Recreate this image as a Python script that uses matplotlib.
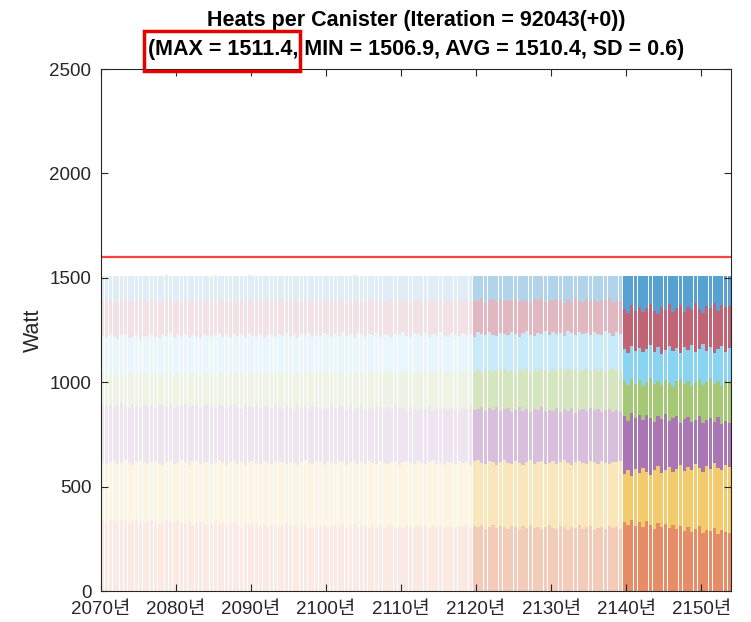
import numpy as np
from matplotlib import pyplot as plt
from matplotlib.patches import Rectangle

plt.rcParams['font.family'] = ['Liberation Sans', 'Noto Sans CJK KR']

# Upper edge of each heat layer per half-year bar (Watt), bottom layer first.
orange_top = [
    338, 331, 342, 335, 328, 340, 333, 326, 337, 344, 332, 327,
    336, 341, 329, 322, 334, 339, 330, 325, 333, 320, 328, 335,
    318, 326, 331, 322, 315, 327, 333, 319, 324, 312, 321, 329,
    316, 308, 322, 314, 319, 326, 311, 317, 309, 320, 313, 305,
    318, 324, 310, 316, 307, 314, 321, 309, 302, 315, 311, 318,
    306, 313, 320, 308, 316, 303, 311, 319, 305, 314, 310, 302,
    317, 309, 315, 304, 312, 320, 307, 313, 301, 316, 310, 305,
    314, 308, 318, 303, 311, 306, 315, 300, 309, 313, 304, 312,
    307, 316, 302, 311, 305, 318, 298, 309, 314, 301, 312, 306,
    299, 313, 308, 296, 311, 304, 317, 300, 309, 295, 306, 314,
    302, 297, 310, 305, 293, 308, 301, 315, 298, 306, 311, 294,
    304, 309, 296, 312, 300, 307, 298, 332, 318, 341, 312, 329,
    305, 334, 316, 298, 327, 309, 322, 301, 318, 295, 312, 289,
    306, 284, 297, 312, 278, 293, 286, 301, 274, 290, 281, 277,
]
yellow_top = [
    612, 606, 618, 622, 609, 615, 627, 611, 604, 619, 625, 613,
    608, 617, 623, 610, 602, 616, 621, 607, 614, 626, 612, 605,
    618, 624, 609, 613, 620, 606, 615, 628, 611, 603, 617, 622,
    610, 616, 605, 619, 624, 612, 608, 621, 614, 606, 618, 625,
    613, 607, 620, 615, 603, 618, 626, 611, 609, 622, 616, 605,
    619, 612, 608, 623, 617, 604, 614, 627, 610, 618, 606, 621,
    615, 609, 624, 612, 607, 620, 616, 603, 619, 625, 611, 608,
    622, 614, 606, 618, 627, 610, 615, 604, 620, 613, 609, 624,
    611, 617, 605, 621, 628, 614, 608, 623, 616, 604, 619, 626,
    612, 607, 622, 615, 603, 620, 627, 610, 617, 624, 606, 613,
    621, 609, 616, 628, 611, 605, 619, 624, 613, 608, 622, 617,
    610, 625, 614, 606, 620, 616, 623, 561, 578, 552, 583, 567,
    589, 571, 556, 582, 598, 564, 579, 592, 570, 586, 603, 575,
    594, 581, 607, 588, 572, 599, 585, 611, 590, 578, 602, 596,
]
purple_top = [
    892, 885, 898, 879, 890, 903, 884, 877, 895, 888, 881, 899,
    886, 893, 878, 897, 889, 882, 901, 876, 891, 884, 896, 880,
    887, 894, 875, 889, 898, 883, 878, 892, 885, 871, 890, 896,
    880, 874, 893, 886, 879, 895, 870, 884, 889, 876, 892, 881,
    873, 887, 882, 869, 891, 878, 885, 872, 888, 880, 866, 883,
    877, 890, 871, 884, 879, 868, 886, 874, 881, 889, 865, 878,
    872, 885, 879, 866, 883, 875, 888, 870, 877, 863, 882, 874,
    869, 880, 873, 886, 862, 876, 871, 883, 867, 879, 874, 861,
    877, 870, 884, 866, 872, 879, 861, 875, 868, 882, 864, 871,
    876, 859, 868, 881, 863, 872, 857, 874, 866, 879, 860, 869,
    864, 877, 858, 870, 862, 875, 855, 867, 873, 860, 878, 865,
    871, 856, 868, 874, 859, 866, 862, 838, 816, 851, 827, 845,
    819, 842, 831, 808, 836, 822, 847, 813, 829, 840, 806, 825,
    834, 811, 820, 839, 803, 817, 828, 809, 832, 798, 815, 807,
]
green_top = [
    1042, 1035, 1048, 1039, 1031, 1046, 1037, 1052, 1041, 1034, 1049, 1038,
    1045, 1036, 1051, 1040, 1033, 1047, 1043, 1030, 1050, 1039, 1044, 1035,
    1048, 1041, 1034, 1053, 1038, 1046, 1032, 1049, 1042, 1037, 1055, 1040,
    1044, 1051, 1036, 1047, 1039, 1054, 1043, 1035, 1050, 1045, 1038, 1052,
    1041, 1048, 1056, 1037, 1046, 1040, 1053, 1044, 1039, 1057, 1042, 1049,
    1047, 1038, 1054, 1045, 1051, 1036, 1048, 1055, 1043, 1050, 1041, 1058,
    1046, 1053, 1040, 1049, 1057, 1044, 1051, 1039, 1055, 1047, 1060, 1043,
    1052, 1045, 1058, 1041, 1054, 1049, 1062, 1046, 1051, 1056, 1043, 1059,
    1048, 1055, 1061, 1050, 1057, 1044, 1063, 1052, 1047, 1059, 1054, 1066,
    1051, 1058, 1045, 1062, 1056, 1067, 1049, 1060, 1053, 1064, 1057, 1050,
    1063, 1055, 1068, 1052, 1061, 1057, 1065, 1050, 1059, 1066, 1054, 1062,
    1056, 1064, 1051, 1060, 1067, 1053, 1058, 1004, 987, 1015, 993, 1009,
    981, 1002, 1018, 990, 1007, 985, 1012, 996, 979, 1005, 1016, 991,
    1008, 984, 999, 1014, 989, 1003, 1019, 993, 1006, 982, 1011, 1000,
]
lightblue_top = [
    1221, 1214, 1228, 1217, 1209, 1225, 1232, 1212, 1219, 1226, 1208, 1223,
    1215, 1230, 1218, 1211, 1227, 1220, 1234, 1213, 1224, 1216, 1229, 1210,
    1226, 1219, 1212, 1231, 1222, 1215, 1228, 1236, 1217, 1224, 1211, 1233,
    1220, 1227, 1214, 1235, 1223, 1218, 1230, 1212, 1225, 1232, 1216, 1229,
    1222, 1236, 1219, 1226, 1213, 1231, 1224, 1238, 1217, 1228, 1221, 1234,
    1227, 1215, 1232, 1223, 1239, 1220, 1229, 1214, 1235, 1225, 1218, 1231,
    1224, 1237, 1219, 1230, 1226, 1213, 1233, 1228, 1240, 1222, 1216, 1235,
    1229, 1221, 1236, 1218, 1231, 1225, 1241, 1223, 1217, 1234, 1228, 1220,
    1237, 1226, 1232, 1219, 1239, 1230, 1224, 1242, 1227, 1221, 1236, 1233,
    1225, 1240, 1231, 1218, 1235, 1243, 1228, 1222, 1238, 1232, 1244, 1226,
    1239, 1230, 1236, 1223, 1245, 1234, 1227, 1241, 1229, 1237, 1224, 1242,
    1233, 1228, 1246, 1235, 1221, 1240, 1231, 1158, 1139, 1172, 1150, 1166,
    1143, 1161, 1178, 1147, 1169, 1136, 1155, 1174, 1149, 1163, 1141, 1170,
    1152, 1176, 1144, 1160, 1181, 1148, 1167, 1139, 1157, 1173, 1146, 1164,
]
red_top = [
    1392, 1386, 1398, 1389, 1381, 1395, 1401, 1384, 1390, 1397, 1383, 1393,
    1387, 1399, 1391, 1380, 1396, 1388, 1402, 1385, 1394, 1382, 1398, 1389,
    1395, 1384, 1400, 1391, 1386, 1397, 1379, 1393, 1401, 1388, 1383, 1396,
    1390, 1399, 1385, 1394, 1381, 1398, 1392, 1387, 1403, 1384, 1395, 1389,
    1397, 1382, 1393, 1400, 1388, 1384, 1396, 1391, 1378, 1399, 1386, 1394,
    1389, 1401, 1385, 1392, 1398, 1381, 1394, 1387, 1402, 1390, 1383, 1397,
    1393, 1386, 1400, 1384, 1391, 1397, 1380, 1395, 1388, 1404, 1385, 1392,
    1398, 1383, 1394, 1389, 1401, 1386, 1392, 1379, 1396, 1390, 1403, 1387,
    1391, 1399, 1384, 1395, 1388, 1402, 1381, 1393, 1397, 1385, 1400, 1389,
    1394, 1387, 1403, 1382, 1396, 1390, 1384, 1399, 1392, 1405, 1386, 1395,
    1389, 1401, 1393, 1380, 1398, 1386, 1404, 1391, 1383, 1397, 1388, 1400,
    1385, 1396, 1392, 1402, 1381, 1394, 1390, 1352, 1331, 1368, 1340, 1359,
    1334, 1357, 1373, 1342, 1329, 1362, 1347, 1376, 1338, 1355, 1369, 1336,
    1361, 1345, 1378, 1350, 1333, 1366, 1354, 1381, 1343, 1371, 1358, 1364,
]
# Total heat per canister (top of each stack)
total_heat = [
    1510.6, 1510.9, 1510.3, 1511.0, 1510.7, 1510.2, 1510.8, 1511.1, 1510.5, 1510.9, 1510.4, 1510.7,
    1511.0, 1510.6, 1510.8, 1510.3, 1510.9, 1511.2, 1510.5, 1510.7, 1510.4, 1511.0, 1510.6, 1510.8,
    1510.5, 1511.1, 1510.7, 1510.2, 1510.9, 1510.6, 1511.3, 1510.4, 1510.8, 1510.5, 1511.0, 1510.7,
    1510.9, 1510.3, 1510.6, 1511.4, 1510.8, 1510.5, 1510.7, 1511.0, 1510.4, 1510.9, 1510.6, 1510.2,
    1510.7, 1511.0, 1510.5, 1510.8, 1510.3, 1510.9, 1510.6, 1511.1, 1510.4, 1510.7, 1510.9, 1510.5,
    1510.8, 1510.4, 1511.0, 1510.6, 1510.9, 1510.3, 1510.7, 1511.2, 1510.5, 1510.8, 1510.6, 1511.0,
    1510.4, 1510.9, 1510.7, 1510.5, 1511.1, 1510.8, 1510.3, 1510.6, 1510.9, 1510.7, 1511.0, 1510.5,
    1510.6, 1511.0, 1510.8, 1510.4, 1510.7, 1510.9, 1510.5, 1511.1, 1510.6, 1510.3, 1510.8, 1510.7,
    1510.9, 1510.5, 1510.7, 1511.0, 1510.4, 1510.8, 1510.6, 1510.9, 1510.3, 1510.7, 1511.0, 1510.5,
    1510.7, 1510.4, 1510.9, 1510.6, 1511.1, 1510.5, 1510.8, 1510.2, 1510.7, 1510.9, 1510.4, 1510.6,
    1510.8, 1510.5, 1511.0, 1510.3, 1510.7, 1510.9, 1510.4, 1510.6, 1511.0, 1510.5, 1510.8, 1510.3,
    1510.6, 1510.9, 1510.4, 1510.7, 1510.2, 1510.8, 1510.5, 1509.8, 1509.1, 1509.6, 1508.7, 1509.3,
    1509.9, 1508.4, 1509.5, 1508.9, 1509.7, 1507.8, 1509.2, 1508.6, 1509.4, 1507.3, 1508.8, 1509.0,
    1508.1, 1509.3, 1507.6, 1508.5, 1506.9, 1508.2, 1509.1, 1507.9, 1508.7, 1507.4, 1508.3, 1508.0,
]

heat_limit = 1600
tick_years = [2070, 2080, 2090, 2100, 2110, 2120, 2130, 2140, 2150]
tick_labels = [f"{y}년" for y in tick_years]

# MATLAB default color order, stacked bottom to top
layer_colors = [
    (0.850, 0.325, 0.098),
    (0.929, 0.694, 0.125),
    (0.494, 0.184, 0.556),
    (0.466, 0.674, 0.188),
    (0.301, 0.745, 0.933),
    (0.635, 0.078, 0.184),
    (0.000, 0.447, 0.741),
]

n = len(total_heat)
years = 2070.25 + 0.5 * np.arange(n)

# Older periods are drawn more transparent
alpha = np.where(years < 2119.5, 0.12, np.where(years < 2139.5, 0.30, 0.66))

bounds = np.vstack([np.zeros(n), orange_top, yellow_top, purple_top,
                    green_top, lightblue_top, red_top, total_heat])

fig = plt.figure(figsize=(7.51, 6.22), dpi=100)
ax = fig.add_axes([0.1345, 0.0498, 0.839, 0.8392])

for k, c in enumerate(layer_colors):
    colors = [(c[0], c[1], c[2], a) for a in alpha]
    ax.bar(years, bounds[k + 1] - bounds[k], width=0.42, bottom=bounds[k],
           color=colors, linewidth=0)

ax.axhline(heat_limit, color=(1.0, 0.25, 0.25), linewidth=1.6)

ax.set_xlim(2070, 2154)
ax.set_ylim(0, 2500)
ax.set_xticks(tick_years)
ax.set_xticklabels(tick_labels)
ax.set_yticks([0, 500, 1000, 1500, 2000, 2500])
ax.tick_params(axis="both", direction="in", length=5, width=0.8,
               top=True, right=True, labelsize=13.5, colors=(0.15, 0.15, 0.15),
               pad=7)
for s in ax.spines.values():
    s.set_color((0.15, 0.15, 0.15))
    s.set_linewidth(0.8)

ax.set_ylabel("Watt", fontsize=15.5, color=(0.15, 0.15, 0.15), labelpad=4)
ax.set_title("Heats per Canister (Iteration = 92043(+0))\n"
             "(MAX = 1511.4, MIN = 1506.9, AVG = 1510.4, SD = 0.6)",
             fontsize=15.5, fontweight="bold", linespacing=1.5, pad=10)

# Highlight box around the maximum
fig.add_artist(Rectangle((144 / 751, 1 - 71 / 622), 156 / 751, 40 / 622,
                         transform=fig.transFigure, fill=False,
                         edgecolor=(0.9, 0.0, 0.0), linewidth=2.5))

plt.savefig("out.png", dpi=100)
